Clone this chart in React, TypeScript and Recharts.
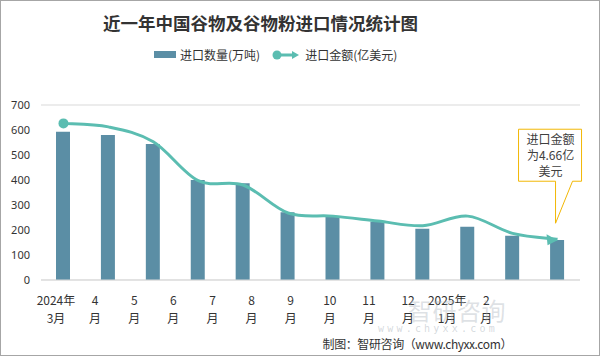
import React from 'react'
import { ComposedChart, Bar, Line, XAxis, YAxis, CartesianGrid } from 'recharts'

const months = ['2024年3月', '4月', '5月', '6月', '7月', '8月', '9月', '10月', '11月', '12月', '2025年1月', '2月']
const volume = [593, 580, 544, 400, 387, 271, 253, 233, 205, 213, 177, 160]
const amount = [17.9, 17.5, 15.8, 11.35, 10.86, 7.66, 7.3, 6.74, 6.2, 7.3, 5.33, 4.66]
const yTicks = [0, 100, 200, 300, 400, 500, 600, 700]

const data = months.map((m, i) => ({ month: m, volume: volume[i], amount: amount[i] }))

const BAR = '#5b8ea5'
const LINE = '#5bbdb1'
const TXT = '#333'

// excel-like smoothing (catmull-rom style bezier)
const smoothCurve: any = (context: any) => {
  let pts: number[][] = []
  return {
    areaStart() {},
    areaEnd() {},
    lineStart() {
      pts = []
    },
    point(x: number, y: number) {
      pts.push([+x, +y])
    },
    lineEnd() {
      pts.forEach((p, i) => {
        if (i === 0) {
          context.moveTo(p[0], p[1])
          return
        }
        const p0 = pts[i - 2] || pts[i - 1]
        const p1 = pts[i - 1]
        const p3 = pts[i + 1] || p
        context.bezierCurveTo(
          p1[0] + (p[0] - p0[0]) / 6,
          p1[1] + (p[1] - p0[1]) / 6,
          p[0] - (p3[0] - p1[0]) / 6,
          p[1] - (p3[1] - p1[1]) / 6,
          p[0],
          p[1]
        )
      })
    },
  }
}

const renderDot = (props: any) => {
  const { cx, cy, index } = props
  if (index === 0) {
    return <circle key="first" cx={cx} cy={cy} r={5} fill={LINE} />
  }
  if (index === amount.length - 1) {
    const tipX = cx - 2
    const tipY = cy - 16
    return (
      <g key="last">
        <polygon points={`${cx},${cy + 1} ${cx - 11},${cy - 5} ${cx - 10},${cy + 6}`} fill={LINE} />
        <path
          d={`M${cx - 39},${cy - 110} H${cx + 24} V${cy - 58} H${cx + 15} L${tipX},${tipY} L${cx - 2},${cy - 58} H${cx - 39} Z`}
          fill="#fff"
          stroke="#f2b705"
          strokeWidth={1}
        />
        <text x={cx - 7} y={cy - 95} textAnchor="middle" fontSize={12} fill="#404040" fontFamily="Noto Sans CJK SC">进口金额</text>
        <text x={cx - 7} y={cy - 79} textAnchor="middle" fontSize={12} fill="#404040" fontFamily="Noto Sans CJK SC">为4.66亿</text>
        <text x={cx - 7} y={cy - 63} textAnchor="middle" fontSize={12} fill="#404040" fontFamily="Noto Sans CJK SC">美元</text>
      </g>
    )
  }
  return <g key={`d${index}`} />
}

const renderTick = (props: any) => {
  const { x, y, payload } = props
  const label: string = payload.value
  const cut = label.includes('年') ? label.indexOf('年') + 1 : label.length - 1
  const tx = x * 0.871 + 0.7
  return (
    <g>
      <text x={tx} y={y + 17} textAnchor="middle" fontSize={12} fill={TXT} fontFamily="Noto Sans CJK SC">
        {label.slice(0, cut)}
      </text>
      <text x={tx} y={y + 35} textAnchor="middle" fontSize={12} fill={TXT} fontFamily="Noto Sans CJK SC">
        {label.slice(cut)}
      </text>
    </g>
  )
}

export default function App() {
  return (
    <div style={{ position: 'absolute', left: 0, top: 0, width: 600, height: 356, background: '#fff', fontFamily: 'Noto Sans CJK SC' }}>
      <ComposedChart width={600} height={356} data={data} margin={{ top: 105, right: 20, left: 0, bottom: 46 }}>
        <CartesianGrid vertical={false} stroke="#d9d9d9" />
        <XAxis dataKey="month" axisLine={{ stroke: '#d9d9d9' }} tickLine={false} interval={0} tick={renderTick} />
        <YAxis
          yAxisId="left"
          width={41}
          domain={[0, 700]}
          ticks={yTicks}
          axisLine={false}
          tickLine={false}
          tickMargin={5}
          tick={{ fontSize: 11, fill: TXT, fontFamily: 'Noto Sans' }}
        />
        <YAxis yAxisId="right" orientation="right" hide domain={[0, 20]} />
        <Bar yAxisId="left" dataKey="volume" fill={BAR} barSize={14} isAnimationActive={false} />
        <Line
          yAxisId="right"
          dataKey="amount"
          type={smoothCurve}
          stroke={LINE}
          strokeWidth={3}
          dot={renderDot}
          activeDot={false}
          isAnimationActive={false}
        />
      </ComposedChart>

      <div style={{ position: 'absolute', left: 0, top: 10, width: 521, textAlign: 'center', fontSize: 17.5, fontWeight: 'bold', color: '#333', fontFamily: 'Noto Sans CJK SC' }}>
        近一年中国谷物及谷物粉进口情况统计图
      </div>

      <div style={{ position: 'absolute', left: 154, top: 46, display: 'flex', alignItems: 'center', fontSize: 12, color: TXT }}>
        <span style={{ display: 'inline-block', width: 22, height: 7, background: BAR, marginRight: 4 }} />
        <span>进口数量(万吨)</span>
        <svg width={30} height={12} style={{ marginLeft: 12, marginRight: 3 }}>
          <line x1={5} y1={6} x2={22} y2={6} stroke={LINE} strokeWidth={3} />
          <circle cx={5} cy={6} r={4.5} fill={LINE} />
          <polygon points="27,6 20,2 20,10" fill={LINE} />
        </svg>
        <span>进口金额(亿美元)</span>
      </div>

      <div style={{ position: 'absolute', left: 408, top: 292, fontSize: 24, color: 'rgba(160,170,180,0.35)', letterSpacing: 0.5 }}>智研咨询</div>
      <div style={{ position: 'absolute', left: 378, top: 323, fontSize: 10, color: 'rgba(160,170,180,0.45)', letterSpacing: 3.2, fontFamily: 'DejaVu Sans Mono' }}>
        www.chyxx.com
      </div>

      <div style={{ position: 'absolute', right: 88, top: 335, fontSize: 12, letterSpacing: -0.4, color: TXT, whiteSpace: 'nowrap' }}>
        制图：智研咨询（www.chyxx.com）
      </div>

      <div style={{ position: 'absolute', left: 0, top: 0, width: 600, height: 356, boxSizing: 'border-box', border: '1px solid #a6a6a6', pointerEvents: 'none' }} />
    </div>
  )
}
